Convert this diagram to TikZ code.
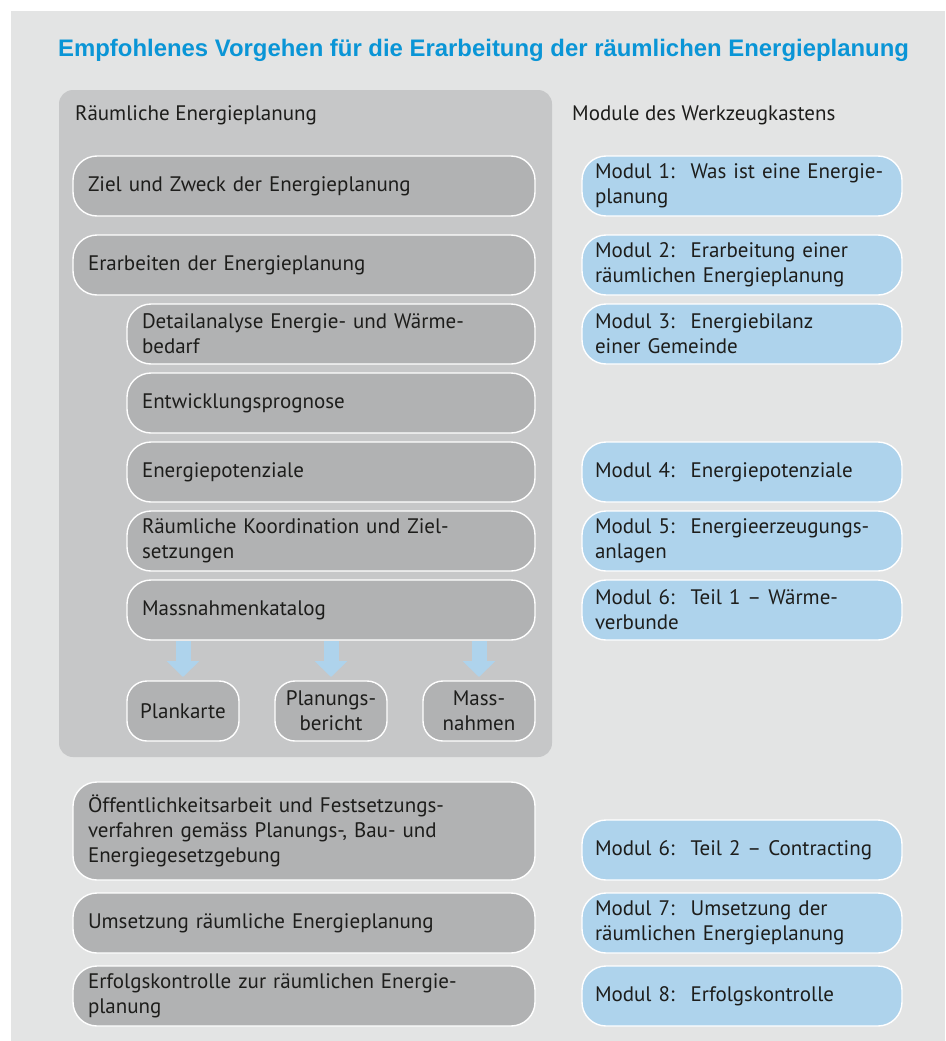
\documentclass[tikz,border=0pt]{standalone}
\usepackage{fontspec}
\setmainfont{PT Sans}
\newfontfamily\headfont{Liberation Sans}
\usepackage{tikz}
\usepackage{xcolor}
\usetikzlibrary{positioning,arrows.meta}

\definecolor{backgray}{HTML}{E3E4E4}
\definecolor{panelgray}{HTML}{C6C7C8}
\definecolor{boxgray}{HTML}{B1B2B3}
\definecolor{modblue}{HTML}{AED3EC}
\definecolor{headblue}{HTML}{0A95D6}
\definecolor{textblack}{HTML}{1D1D1B}

\begin{document}
\begin{tikzpicture}[x=1pt,y=-1pt,node distance=9pt,
   font=\fontsize{21}{25}\selectfont,text=textblack,
   stepbox/.style={draw=white,line width=1.4pt,fill=boxgray,rounded corners=24pt,
      minimum height=60pt,inner xsep=15pt,inner ysep=4pt,outer sep=0pt,
      text width=432pt,align=left},
   sub/.style={text width=378pt},
   modbox/.style={stepbox,fill=modblue,inner xsep=13pt,text width=294pt},
   outbox/.style={stepbox,rounded corners=20pt,inner xsep=5pt,text width=102pt,align=center},
   flow/.style={line width=15pt,draw=modblue,-{Triangle[width=32pt,length=16pt]},
      shorten <=1pt,shorten >=4pt}]
   \useasboundingbox (0,0) rectangle (945,1041);
   \fill[backgray] (11,11) rectangle (945,1041);

   \node[anchor=west,inner sep=0pt,text=headblue,
      font=\headfont\bfseries\fontsize{23.9}{28}\selectfont] (title) at (58,50)
      {Empfohlenes Vorgehen für die Erarbeitung der räumlichen Energieplanung};

   % grey panel with the planning steps
   \node[fill=panelgray,rounded corners=14pt,inner sep=0pt,outer sep=0pt,
      minimum width=493pt,minimum height=667pt,anchor=north west] (panel) at (59,90) {};
   \node[anchor=west,inner sep=0pt] (panel_head) at (75,115) {Räumliche Energieplanung};
   \node[anchor=west,inner sep=0pt] (mod_head) at (572,115) {Module des Werkzeugkastens};

   \node[stepbox,anchor=north west] (s_1) at (73,156) {Ziel und Zweck der Energieplanung};
   \node[stepbox] (s_2) [below=19pt of s_1] {Erarbeiten der Energieplanung};
   \node[stepbox,sub] (s_3) [below=of s_2.south east,anchor=north east]
      {Detailanalyse Energie- und Wärme-\\bedarf};
   \node[stepbox,sub] (s_4) [below=of s_3] {Entwicklungsprognose};
   \node[stepbox,sub] (s_5) [below=of s_4] {Energiepotenziale};
   \node[stepbox,sub] (s_6) [below=of s_5] {Räumliche Koordination und Ziel-\\setzungen};
   \node[stepbox,sub] (s_7) [below=of s_6] {Massnahmenkatalog};

   \node[outbox] (p_1) [below=41pt of s_7.south west,anchor=north west] {Plankarte};
   \node[outbox] (p_2) [below=41pt of s_7.south] {Planungs-\\bericht};
   \node[outbox] (p_3) [below=41pt of s_7.south east,anchor=north east] {Mass-\\nahmen};

   \foreach \p in {p_1,p_2,p_3}
      \draw[flow] (s_7.south -| \p.north) -- (\p.north);

   % steps after the planning
   \node[stepbox,anchor=north west,minimum height=98pt] (s_8) at (73,782)
      {Öffentlichkeitsarbeit und Festsetzungs-\\verfahren gemäss Planungs-, Bau- und\\Energiegesetzgebung};
   \node[stepbox] (s_9) [below=13pt of s_8] {Umsetzung räumliche Energieplanung};
   \node[stepbox] (s_10) [below=13pt of s_9] {Erfolgskontrolle zur räumlichen Energie-\\planung};

   % modules of the toolbox
   \node[modbox] (m_1) [right=47pt of s_1] {Modul 1:\hspace{16pt}Was ist eine Energie-\\planung};
   \node[modbox] (m_2) [right=47pt of s_2] {Modul 2:\hspace{16pt}Erarbeitung einer\\räumlichen Energieplanung};
   \node[modbox] (m_3) [right=47pt of s_3] {Modul 3:\hspace{16pt}Energiebilanz\\einer Gemeinde};
   \node[modbox] (m_4) [right=47pt of s_5] {Modul 4:\hspace{16pt}Energiepotenziale};
   \node[modbox] (m_5) [right=47pt of s_6] {Modul 5:\hspace{16pt}Energieerzeugungs-\\anlagen};
   \node[modbox] (m_6) [right=47pt of s_7] {Modul 6:\hspace{16pt}Teil 1 – Wärme-\\verbunde};
   \node[modbox,anchor=south west] (m_7) at ([xshift=47pt]s_8.south east)
      {Modul 6:\hspace{16pt}Teil 2 – Contracting};
   \node[modbox] (m_8) [right=47pt of s_9] {Modul 7:\hspace{16pt}Umsetzung der\\räumlichen Energieplanung};
   \node[modbox] (m_9) [right=47pt of s_10] {Modul 8:\hspace{16pt}Erfolgskontrolle};
\end{tikzpicture}
\end{document}
